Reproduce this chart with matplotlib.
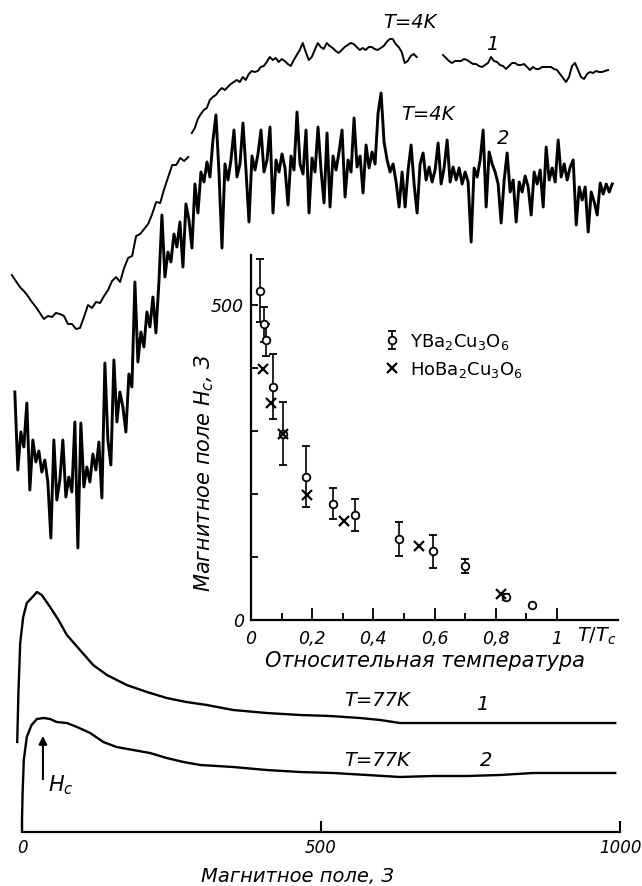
import numpy as np
import matplotlib
matplotlib.use('Agg')
import matplotlib.pyplot as plt

plt.rcParams['font.family'] = ['DejaVu Sans']
plt.rcParams['mathtext.fontset'] = 'dejavusans'

# ---------------- main panel: signal (arb. units) vs. magnetic field (Oe) ----------------
field_ticks = [0, 500, 1000]
field_tick_labels = ['0', '500', '1000']

# T = 77 K, sample 1
h77_1 = [-8, -6, -3, 2, 8, 16, 25, 33, 47, 61, 75, 97, 119, 142, 175, 209, 242, 275,
         309, 353, 409, 465, 515, 565, 599, 632, 687, 799, 992]
s77_1 = [90, 139, 189, 215, 229, 234, 240, 237, 225, 212, 197, 182, 167, 157, 147, 140,
         134, 130, 127, 122, 119, 117, 116, 114, 112, 109, 109, 109, 109]

# T = 77 K, sample 2
h77_2 = [0, 0, 1, 3, 8, 16, 25, 36, 47, 58, 75, 92, 114, 136, 158, 186, 214, 242, 270,
         298, 326, 353, 409, 465, 520, 577, 632, 687, 744, 799, 855, 911, 992]
s77_2 = [2, 12, 39, 72, 95, 107, 113, 114, 113, 110, 109, 105, 99, 90, 85, 82, 79, 74,
         70, 67, 66, 65, 62, 60, 59, 57, 55, 56, 56, 57, 59, 59, 59]

# T = 4 K, sample 1 (recorder trace, three pen segments, uniform field sampling)
h4_1a_range = (-17, 278)
s4_1a = [557, 551, 545, 541, 536, 530, 525, 519, 513, 516, 515, 519, 518, 516, 508, 508,
         503, 504, 515, 527, 524, 530, 529, 536, 542, 551, 555, 550, 564, 574, 576, 596,
         598, 603, 608, 618, 630, 629, 643, 655, 667, 667, 674, 671, 675]
h4_1b_range = (284, 660)
s4_1b = [699, 704, 713, 718, 722, 724, 732, 735, 737, 741,
         744, 742, 745, 748, 750, 752, 750, 755, 752, 758,
         761, 760, 761, 765, 766, 770, 775, 772, 774, 770,
         773, 771, 768, 766, 772, 777, 782, 789, 780, 772,
         775, 782, 789, 785, 783, 789, 786, 784, 781, 779,
         782, 785, 787, 789, 788, 785, 782, 784, 782, 785,
         785, 783, 782, 784, 786, 790, 793, 793, 788, 785,
         780, 769, 771, 776, 778, 775]
h4_1c_range = (704, 980)
s4_1c = [777, 774, 771, 769, 771, 771, 771, 773, 772, 770,
         768, 768, 766, 765, 767, 769, 775, 771, 770, 767,
         766, 763, 766, 769, 769, 767, 767, 768, 765, 762,
         765, 763, 763, 765, 765, 765, 765, 763, 762, 758,
         754, 750, 755, 766, 769, 762, 755, 753, 758, 760,
         759, 761, 760, 760, 761, 762]

# T = 4 K, sample 2 (noisy recorder trace, uniform field sampling)
h4_2_range = (-12, 987)
s4_2 = [440, 362, 400, 385, 429, 342, 392, 370, 381, 360,
        372, 350, 294, 392, 332, 352, 392, 335, 355, 340,
        410, 284, 409, 345, 365, 350, 378, 362, 390, 334,
        469, 392, 367, 472, 410, 440, 425, 400, 458, 445,
        550, 470, 500, 485, 520, 505, 535, 499, 550, 617,
        555, 580, 570, 598, 585, 610, 565, 628, 612, 584,
        648, 619, 660, 650, 670, 655, 692, 717, 660, 584,
        668, 652, 672, 702, 655, 668, 709, 662, 610, 676,
        662, 678, 702, 660, 672, 705, 619, 672, 660, 678,
        664, 627, 676, 662, 720, 668, 658, 702, 619, 674,
        660, 705, 662, 629, 699, 625, 676, 662, 680, 702,
        635, 672, 660, 714, 665, 676, 639, 687, 664, 680,
        668, 719, 739, 690, 672, 660, 668, 650, 625, 660,
        625, 662, 687, 648, 619, 668, 679, 652, 665, 650,
        662, 689, 648, 664, 692, 650, 665, 652, 664, 648,
        660, 650, 590, 664, 655, 672, 702, 625, 680, 668,
        660, 648, 609, 652, 679, 640, 652, 610, 650, 640,
        656, 645, 617, 660, 648, 662, 625, 685, 652, 664,
        650, 692, 655, 668, 652, 665, 672, 607, 645, 632,
        645, 600, 640, 630, 617, 649, 638, 648, 640, 648]

# ---------------- inset: critical field vs reduced temperature ----------------
t_ticks = [0, 0.2, 0.4, 0.6, 0.8, 1.0]
t_tick_labels = ['0', '0,2', '0,4', '0,6', '0,8', '1']
t_minor = [0.1, 0.3, 0.5, 0.7, 0.9]
hc_ticks = [0, 100, 200, 300, 400, 500]
hc_tick_labels = ['0', '', '', '', '', '500']

yba_t = [0.029, 0.042, 0.049, 0.073, 0.106, 0.18, 0.267, 0.34, 0.485, 0.594, 0.70, 0.833, 0.92]
yba_hc = [523, 470, 445, 371, 296, 228, 185, 167, 129, 109, 86, 37, 24]
yba_err = [50, 28, 25, 52, 50, 48, 25, 25, 27, 26, 11, 5, np.nan]
hoba_t = [0.038, 0.064, 0.106, 0.184, 0.305, 0.548, 0.819]
hoba_hc = [399, 345, 296, 198, 158, 117, 41]
legend_labels = [r'Y$\mathrm{Ba_2Cu_3O_6}$', r'Ho$\mathrm{Ba_2Cu_3O_6}$']

# ---------------- drawing ----------------
W, H = 642, 886
fig = plt.figure(figsize=(W / 100, H / 100), dpi=100)
IT = dict(fontstyle='italic')

ax = fig.add_axes([22 / W, 54 / H, 598 / W, 832 / H])
ax.patch.set_alpha(0)
ax.set_xlim(0, 1000)
ax.set_ylim(0, 832)
for sp in ['top', 'right', 'left']:
    ax.spines[sp].set_visible(False)
ax.spines['bottom'].set_linewidth(1.6)
ax.set_xticks(field_ticks, labels=field_tick_labels, **IT)
ax.set_yticks([])
ax.tick_params(axis='x', direction='in', length=8, width=1.5, pad=5, labelsize=12)

lw_kw = dict(color='k', clip_on=False, solid_joinstyle='round')
ax.plot(h77_1, s77_1, lw=1.7, **lw_kw)
ax.plot(h77_2, s77_2, lw=1.7, **lw_kw)
ax.plot(np.linspace(*h4_1a_range, len(s4_1a)), s4_1a, lw=1.4, **lw_kw)
ax.plot(np.linspace(*h4_1b_range, len(s4_1b)), s4_1b, lw=1.4, **lw_kw)
ax.plot(np.linspace(*h4_1c_range, len(s4_1c)), s4_1c, lw=1.4, **lw_kw)
ax.plot(np.linspace(*h4_2_range, len(s4_2)), s4_2, lw=2.1, **lw_kw)

ax.set_xlabel('Магнитное поле, З', fontsize=14, **IT)
ax.xaxis.set_label_coords(0.46, -0.042)

txt = dict(fontsize=14, ha='center', va='center', **IT)
ax.text(649, 809, 'T=4K', **txt)
ax.text(787, 787, '1', **txt)
ax.text(679, 718, 'T=4K', **txt)
ax.text(804, 694, '2', **txt)
ax.text(594, 131, 'T=77K', **txt)
ax.text(769, 127, '1', **txt)
ax.text(594, 72, 'T=77K', **txt)
ax.text(776, 71, '2', **txt)
ax.annotate('', xy=(35, 99), xytext=(35, 50),
            arrowprops=dict(arrowstyle='-|>', lw=1.5, color='k', mutation_scale=12))
ax.text(64, 47, '$H_c$', fontsize=15, ha='center', va='center')

# inset
ax_in = fig.add_axes([251 / W, (H - 620) / H, 367 / W, 365 / H])
ax_in.patch.set_alpha(0)
ax_in.set_xlim(0, 1.2)
ax_in.set_ylim(0, 580)
for sp in ['top', 'right']:
    ax_in.spines[sp].set_visible(False)
for sp in ['left', 'bottom']:
    ax_in.spines[sp].set_linewidth(1.6)
ax_in.set_xticks(t_ticks, labels=t_tick_labels, **IT)
ax_in.set_xticks(t_minor, minor=True)
ax_in.set_yticks(hc_ticks, labels=hc_tick_labels, **IT)
ax_in.tick_params(axis='x', which='major', direction='in', length=9, width=1.3, pad=7, labelsize=12.5)
ax_in.tick_params(axis='x', which='minor', direction='in', length=5, width=1.3)
ax_in.tick_params(axis='y', which='major', direction='in', length=5, width=1.3, pad=5, labelsize=12.5)

eb = ax_in.errorbar(yba_t, yba_hc, yerr=yba_err, fmt='o', mfc='white', mec='k', ms=5.5, mew=1.3,
                    ecolor='k', elinewidth=1.2, capsize=3, capthick=1.2, zorder=3)
hx, = ax_in.plot(hoba_t, hoba_hc, 'x', color='k', ms=6.5, mew=1.6, zorder=4)

leg = ax_in.legend([eb, hx], legend_labels,
                   loc='upper left', bbox_to_anchor=(0.36, 0.79), frameon=False,
                   prop=dict(size=13),
                   handlelength=1.0, handletextpad=0.5, labelspacing=0.45,
                   borderaxespad=0, borderpad=0)

ax_in.set_xlabel('Относительная температура', fontsize=15, **IT)
ax_in.xaxis.set_label_coords(0.474, -0.085)
ax_in.set_ylabel('Магнитное поле $H_c$, З', fontsize=15, **IT)
ax_in.yaxis.set_label_coords(-0.095, 0.405)
ax_in.text(0.943, -0.044, '$T/T_c$', transform=ax_in.transAxes, fontsize=14,
           ha='center', va='center')

fig.savefig('out.png', dpi=100)
